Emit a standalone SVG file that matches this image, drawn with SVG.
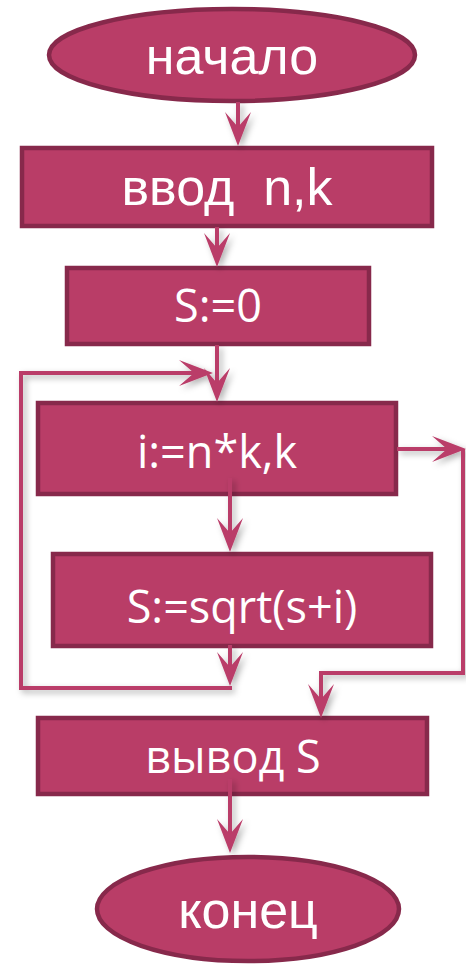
<svg xmlns="http://www.w3.org/2000/svg" width="466" height="964" viewBox="0 0 466 964">
<style>
.node{fill:#b93d67;stroke:#87294b;stroke-width:4.5}
.t1{font-family:"Liberation Sans",Arial,sans-serif;font-size:52px;fill:#ffffff;text-anchor:middle;white-space:pre}
.t2{font-family:"Open Sans","Noto Sans",sans-serif;font-size:45px;fill:#ffffff;text-anchor:middle;white-space:pre}
.c{fill:none;stroke:#ba3e69;stroke-width:4;marker-end:url(#ah)}
.cn{fill:none;stroke:#ba3e69;stroke-width:4}
</style>
<defs>
<marker id="ah" viewBox="-36 -15 38 30" markerWidth="38" markerHeight="30" refX="-16" refY="0" orient="auto" markerUnits="userSpaceOnUse">
<path d="M0,0 L-34,-13 L-19,0 L-34,13 Z" fill="#ba3e69"/>
</marker>
<filter id="sh" x="-20%" y="-20%" width="140%" height="140%">
<feDropShadow dx="3" dy="3" stdDeviation="3" flood-color="#000" flood-opacity="0.3"/>
</filter>
</defs>
<g id="n_start">
<ellipse class="node" cx="232" cy="55" rx="183" ry="46"/>
<text class="t1" x="232" y="74">начало</text>
</g>
<g id="n_input">
<rect class="node" x="22" y="148" width="410" height="78"/>
<text class="t1" x="227" y="205">ввод  n,k</text>
</g>
<g id="n_s0">
<rect class="node" x="67" y="268" width="302" height="76"/>
<text class="t2" x="218" y="322">S:=0</text>
</g>
<g id="n_loop">
<rect class="node" x="38" y="403" width="358" height="91"/>
<text class="t2" x="217" y="468">i:=n*k,k</text>
</g>
<g id="n_body">
<rect class="node" x="53" y="554" width="378" height="92"/>
<text class="t2" x="242" y="623">S:=sqrt(s+i)</text>
</g>
<g id="n_output">
<rect class="node" x="38" y="718" width="389" height="76"/>
<text class="t2" x="233" y="773">вывод S</text>
</g>
<g id="n_end">
<ellipse class="node" cx="248" cy="909" rx="151" ry="52"/>
<text class="t1" x="248" y="928">конец</text>
</g>
<g id="connectors" filter="url(#sh)">
<path class="c" d="M238,102 L238,130"/>
<path class="c" d="M217,227 L217,251"/>
<path class="c" d="M217,345 L217,386"/>
<path class="c" d="M230,478 L230,536"/>
<path class="c" d="M230,645 L230,670"/>
<path class="cn" d="M232,688 L21,688 L21,373 L197,373"/>
<path class="c" d="M21,373 L197,373"/>
<path class="c" d="M397,449 L450,449"/>
<path class="cn" d="M463,449 L463,673 L321,673 L321,702"/>
<path class="c" d="M321,673 L321,702"/>
<path class="c" d="M230,779 L230,837"/>
</g>
</svg>
